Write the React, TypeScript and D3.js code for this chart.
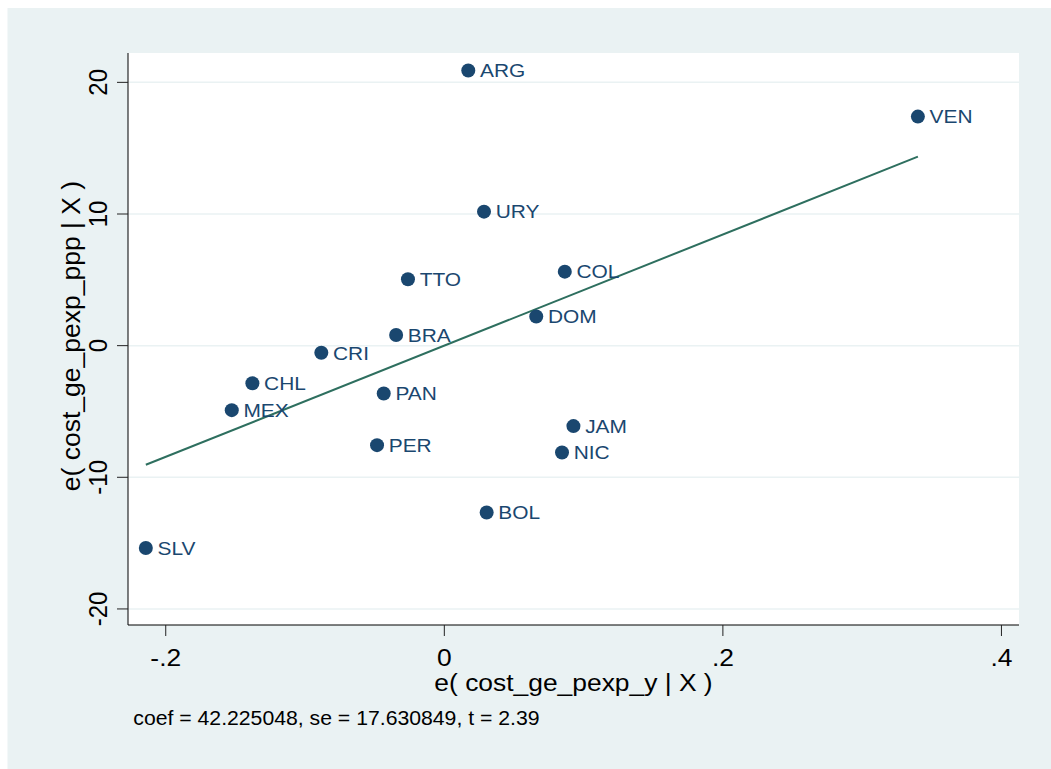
import React, { useEffect, useRef } from 'react';
import * as d3 from 'd3';

// country codes and residuals
const codes = ['ARG', 'URY', 'TTO', 'BRA', 'CRI', 'PAN', 'PER', 'COL', 'DOM', 'JAM', 'NIC', 'BOL', 'CHL', 'MEX', 'SLV', 'VEN'];
const xResid = [0.0172, 0.0285, -0.0261, -0.0346, -0.0883, -0.0435, -0.0483, 0.0865, 0.066, 0.0927, 0.0845, 0.0304, -0.1378, -0.1526, -0.2143, 0.34];
const yResid = [20.9, 10.18, 5.04, 0.81, -0.54, -3.63, -7.56, 5.62, 2.21, -6.11, -8.12, -12.68, -2.86, -4.9, -15.37, 17.4];

const xTicks = [-0.2, 0, 0.2, 0.4];
const xTickLabels = ['-.2', '0', '.2', '.4'];
const yTicks = [-20, -10, 0, 10, 20];
const yTickLabels = ['-20', '-10', '0', '10', '20'];

const coef = 42.225048;
const note = 'coef = 42.225048, se = 17.630849, t = 2.39';
const xTitle = 'e( cost_ge_pexp_y | X )';
const yTitle = 'e( cost_ge_pexp_ppp | X )';

const W = 1051, H = 769;
const bg = '#eaf2f3';
const navy = '#1a476f';
const lineColor = '#2e6f5f';
const font = '"Liberation Sans", Arial, Helvetica, sans-serif';
const sx = 1.1; // the picture is a little wider than tall

export default function App() {
    const ref = useRef<SVGSVGElement>(null);

    useEffect(() => {
        const svg = d3.select(ref.current);
        svg.selectAll('*').remove();

        const left = 128, right = 1019, top = 53, bottom = 625;

        var x = d3.scaleLinear()
            .domain([-0.2271, 0.4126])
            .range([left, right]);

        var y = d3.scaleLinear()
            .domain([22.23, -21.22])
            .range([top, bottom]);

        // outer background
        svg.append('rect')
            .attr('x', 7.5).attr('y', 8)
            .attr('width', W - 7.5).attr('height', H - 8)
            .attr('fill', bg);

        // plot region
        svg.append('rect')
            .attr('x', left).attr('y', top)
            .attr('width', right - left).attr('height', bottom - top)
            .attr('fill', '#ffffff');

        // grid lines
        yTicks.forEach(t => {
            svg.append('line')
                .attr('x1', left).attr('x2', right)
                .attr('y1', y(t)).attr('y2', y(t))
                .style('stroke', bg)
                .style('stroke-width', 1.5);
        });

        // axes
        svg.append('line')
            .attr('x1', left).attr('x2', left)
            .attr('y1', top).attr('y2', bottom)
            .style('stroke', '#000').style('stroke-width', 1);
        svg.append('line')
            .attr('x1', left).attr('x2', right)
            .attr('y1', bottom).attr('y2', bottom)
            .style('stroke', '#000').style('stroke-width', 1);

        yTicks.forEach((t, i) => {
            svg.append('line')
                .attr('x1', left - 11).attr('x2', left)
                .attr('y1', y(t)).attr('y2', y(t))
                .style('stroke', '#222').style('stroke-width', 1);
            svg.append('text')
                .attr('transform', `translate(106.7,${y(t)}) scale(${sx},1) rotate(-90)`)
                .attr('text-anchor', 'middle')
                .style('font-family', font).style('font-size', '24px')
                .attr('fill', '#000')
                .text(yTickLabels[i]);
        });

        xTicks.forEach((t, i) => {
            svg.append('line')
                .attr('x1', x(t)).attr('x2', x(t))
                .attr('y1', bottom).attr('y2', bottom + 11)
                .style('stroke', '#222').style('stroke-width', 1);
            svg.append('text')
                .attr('transform', `translate(${x(t)},666) scale(${sx},1)`)
                .attr('text-anchor', 'middle')
                .style('font-family', font).style('font-size', '24px')
                .attr('fill', '#000')
                .text(xTickLabels[i]);
        });

        // axis titles
        svg.append('text')
            .attr('transform', `translate(${(left + right) / 2},691) scale(${sx},1)`)
            .attr('text-anchor', 'middle')
            .style('font-family', font).style('font-size', '24px')
            .attr('fill', '#000')
            .text(xTitle);

        svg.append('text')
            .attr('transform', `translate(79.5,336) rotate(-90)`)
            .attr('text-anchor', 'middle')
            .style('font-family', font).style('font-size', '26.5px')
            .attr('fill', '#000')
            .text(yTitle);

        // fitted line through the origin (residuals have mean zero)
        const xMin = d3.min(xResid) as number, xMax = d3.max(xResid) as number;
        svg.append('path')
            .attr('d', d3.line<number>().x(d => x(d)).y(d => y(coef * d))([xMin, xMax]))
            .attr('fill', 'none')
            .style('stroke', lineColor)
            .style('stroke-width', 2);

        // points and labels
        codes.forEach((c, i) => {
            svg.append('circle')
                .attr('cx', x(xResid[i])).attr('cy', y(yResid[i]))
                .attr('r', 7)
                .attr('fill', navy);
            svg.append('text')
                .attr('transform', `translate(${x(xResid[i]) + 11.7},${y(yResid[i]) + 6.8}) scale(${sx},1)`)
                .style('font-family', font).style('font-size', '19px')
                .attr('fill', navy)
                .text(c);
        });

        // note
        svg.append('text')
            .attr('transform', `translate(133.3,724.7) scale(${sx},1)`)
            .style('font-family', font).style('font-size', '19.3px')
            .attr('fill', '#000')
            .text(note);
    }, []);

    return (
        <svg ref={ref} width={W} height={H}
            style={{ position: 'absolute', left: 0, top: 0, display: 'block' }}></svg>
    );
}
